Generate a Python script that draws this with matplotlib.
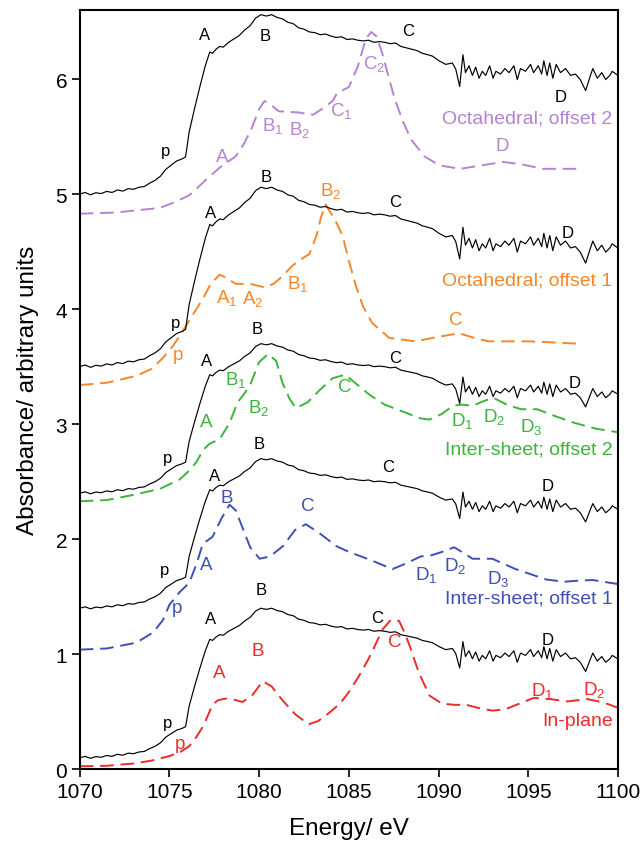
import numpy as np
import matplotlib
matplotlib.use("Agg")
import matplotlib.pyplot as plt

plt.rcParams['font.family'] = ['Liberation Sans', 'DejaVu Sans']
plt.rcParams['mathtext.default'] = 'regular'

# measured spectrum (baseline removed), shared by all five black traces
exp_energy = [1070.0, 1070.3, 1070.6, 1070.9, 1071.2, 1071.5, 1071.8, 1072.1, 1072.4, 1072.7,
              1073.0, 1073.3, 1073.6, 1073.9, 1074.2, 1074.5, 1074.8, 1075.1, 1075.4, 1075.7,
              1075.9, 1076.1, 1076.4, 1076.7, 1077.0, 1077.25, 1077.4, 1077.6, 1077.8, 1078.0,
              1078.3, 1078.6, 1078.9, 1079.2, 1079.5, 1079.8, 1080.1, 1080.4, 1080.7, 1081.0,
              1081.3, 1081.6, 1081.9, 1082.2, 1082.5, 1082.8, 1083.1, 1083.4, 1083.7, 1084.0,
              1084.3, 1084.6, 1084.9, 1085.2, 1085.5, 1085.8, 1086.1, 1086.4, 1086.7, 1087.0,
              1087.3, 1087.6, 1087.9, 1088.2, 1088.5, 1088.8, 1089.1, 1089.4, 1089.66, 1090.03,
              1090.4, 1090.77, 1090.96, 1091.18, 1091.36, 1091.5, 1091.7, 1091.89, 1092.07, 1092.26,
              1092.44, 1092.63, 1092.85, 1093.04, 1093.2, 1093.46, 1093.7, 1093.93, 1094.2, 1094.39,
              1094.57, 1094.85, 1095.13, 1095.3, 1095.56, 1095.75, 1095.87, 1096.05, 1096.2, 1096.37,
              1096.56, 1096.8, 1097.08, 1097.36, 1097.63, 1097.9, 1098.2, 1098.47, 1098.6, 1098.85,
              1099.1, 1099.32, 1099.55, 1099.68, 1100.0]
exp_mu = [0.000, 0.012, -0.005, 0.010, 0.004, 0.020, 0.012, 0.030, 0.022, 0.040,
          0.035, 0.050, 0.055, 0.080, 0.100, 0.130, 0.180, 0.210, 0.240, 0.255,
          0.270, 0.450, 0.620, 0.780, 0.930, 1.030, 1.020, 1.050, 1.070, 1.065,
          1.100, 1.125, 1.150, 1.190, 1.220, 1.275, 1.300, 1.290, 1.300, 1.280,
          1.270, 1.245, 1.235, 1.205, 1.195, 1.175, 1.170, 1.155, 1.160, 1.145,
          1.135, 1.140, 1.120, 1.125, 1.115, 1.110, 1.115, 1.100, 1.105, 1.100,
          1.090, 1.095, 1.070, 1.060, 1.050, 1.040, 1.020, 1.010, 1.000, 0.966,
          0.940, 0.950, 0.906, 0.780, 1.010, 0.880, 0.930, 0.860, 0.920, 0.840,
          0.890, 0.860, 0.930, 0.840, 0.890, 0.870, 0.910, 0.880, 0.930, 0.830,
          0.910, 0.890, 0.940, 0.880, 0.930, 0.870, 0.966, 0.860, 0.950, 0.840,
          0.940, 0.880, 0.910, 0.860, 0.870, 0.830, 0.750, 0.860, 0.910, 0.840,
          0.880, 0.830, 0.860, 0.890, 0.860]

# offset and scale for each black trace (bottom to top)
exp_offsets = [0.1, 1.4, 2.4, 3.5, 5.0]
exp_scales = [1.0, 1.0, 1.0, 1.2, 1.2]

# calculated spectra
inplane_e = [1070, 1071.5, 1073, 1074, 1075, 1075.6, 1076.1, 1076.5, 1076.9, 1077.4, 1077.7,
             1078.15, 1078.6, 1079.07, 1079.6, 1080.2, 1080.7, 1081.3, 1082.0, 1082.75, 1083.3,
             1083.9, 1084.5, 1085.0, 1085.6, 1086.1, 1086.5, 1086.9, 1087.35, 1087.8, 1088.1,
             1088.4, 1088.9, 1089.5, 1090.2, 1090.9, 1091.55, 1092.3, 1093.0, 1093.7, 1094.5,
             1095.3, 1096.2, 1097.2, 1098.3, 1099.2, 1100]
inplane_mu = [0.026, 0.03, 0.05, 0.075, 0.115, 0.15, 0.20, 0.28, 0.38, 0.56, 0.60,
              0.615, 0.605, 0.585, 0.64, 0.765, 0.72, 0.60, 0.48, 0.39, 0.42,
              0.49, 0.57, 0.67, 0.82, 0.96, 1.09, 1.22, 1.30, 1.29, 1.19,
              1.07, 0.84, 0.64, 0.57, 0.56, 0.56, 0.53, 0.51, 0.52, 0.57,
              0.62, 0.61, 0.59, 0.61, 0.58, 0.535]

inter1_e = [1070, 1071.5, 1073.15, 1074.1, 1074.65, 1075.0, 1075.57, 1076.1, 1076.5, 1076.86,
            1077.4, 1077.9, 1078.35, 1078.7, 1079.1, 1079.5, 1080.03, 1080.6, 1081.33, 1082.0,
            1082.6, 1083.3, 1084.3, 1085.0, 1086.2, 1087.43, 1088.2, 1089.0, 1089.6, 1090.2,
            1090.87, 1091.4, 1091.9, 1092.5, 1093.0, 1094.3, 1096.0, 1097.0, 1097.8, 1098.6, 1100]
inter1_mu = [0.04, 0.05, 0.10, 0.19, 0.30, 0.43, 0.54, 0.62, 0.78, 0.96,
             1.02, 1.18, 1.30, 1.25, 1.09, 0.93, 0.83, 0.85, 0.94, 1.08,
             1.13, 1.06, 0.94, 0.89, 0.82, 0.74, 0.79, 0.85, 0.86, 0.89,
             0.93, 0.88, 0.83, 0.83, 0.83, 0.74, 0.65, 0.63, 0.64, 0.645, 0.61]

inter2_e = [1070, 1071.5, 1073.15, 1074.5, 1075.57, 1076.0, 1076.5, 1076.9, 1077.24, 1077.8,
            1078.35, 1078.8, 1079.2, 1079.55, 1080.0, 1080.5, 1080.95, 1081.3, 1081.7, 1082.05,
            1082.7, 1083.4, 1084.1, 1084.8, 1085.5, 1086.2, 1087.0, 1088.0, 1089.0, 1089.5,
            1090.2, 1090.8, 1091.3, 1091.9, 1092.5, 1093.05, 1093.8, 1094.6, 1095.5, 1096.5,
            1097.6, 1098.8, 1100]
inter2_mu = [0.03, 0.04, 0.09, 0.14, 0.22, 0.28, 0.37, 0.48, 0.53, 0.57,
             0.71, 0.89, 0.97, 1.06, 1.24, 1.31, 1.25, 1.06, 0.92, 0.84,
             0.89, 1.00, 1.10, 1.13, 1.04, 0.95, 0.87, 0.81, 0.75, 0.74,
             0.79, 0.86, 0.87, 0.86, 0.90, 0.93, 0.87, 0.83, 0.83, 0.77,
             0.71, 0.66, 0.63]

octa1_e = [1070, 1071.5, 1073.15, 1074.0, 1074.6, 1075.2, 1075.75, 1076.3, 1076.86, 1077.3,
           1077.8, 1078.2, 1078.7, 1079.5, 1080.3, 1080.8, 1081.33, 1081.8, 1082.2, 1082.8,
           1083.2, 1083.45, 1083.7, 1083.9, 1084.25, 1084.65, 1085.0, 1085.4, 1085.8, 1086.3,
           1087.25, 1088.7, 1090.0, 1091.15, 1092.0, 1092.8, 1095.1, 1097.8, 1098.0]
octa1_mu = [0.04, 0.06, 0.12, 0.18, 0.27, 0.38, 0.51, 0.65, 0.79, 0.92,
            1.00, 0.97, 0.92, 0.92, 0.89, 0.92, 0.99, 1.07, 1.12, 1.18,
            1.34, 1.50, 1.61, 1.56, 1.47, 1.34, 1.12, 0.90, 0.72, 0.58,
            0.45, 0.42, 0.46, 0.49, 0.45, 0.42, 0.42, 0.40, 0.40]

octa2_e = [1070, 1072, 1074.46, 1075.3, 1076.1, 1076.6, 1077.07, 1077.8, 1078.7, 1079.2,
           1079.63, 1080.0, 1080.3, 1080.7, 1081.1, 1082.2, 1083.0, 1083.6, 1084.1, 1084.35,
           1085.0, 1085.5, 1085.95, 1086.25, 1086.55, 1086.85, 1087.2, 1087.55, 1088.0, 1088.45,
           1089.2, 1090.05, 1091.2, 1092.4, 1093.6, 1094.6, 1095.8, 1097.0, 1098.0]
octa2_mu = [0.03, 0.04, 0.08, 0.13, 0.19, 0.26, 0.33, 0.43, 0.53, 0.65,
            0.79, 0.94, 1.01, 0.97, 0.92, 0.91, 0.89, 0.95, 1.01, 1.08,
            1.13, 1.31, 1.55, 1.61, 1.57, 1.43, 1.23, 1.03, 0.84, 0.68,
            0.53, 0.45, 0.42, 0.45, 0.48, 0.46, 0.42, 0.42, 0.42]

calc_offsets = [0.0, 1.0, 2.3, 3.3, 4.8]
calc_colors = ['#ee2b2b', '#3d50b4', '#3cb43c', '#f7862a', '#b683d2']
calc_names = ['In-plane', 'Inter-sheet; offset 1', 'Inter-sheet; offset 2',
              'Octahedral; offset 1', 'Octahedral; offset 2']
calc_name_y = [0.42, 1.49, 2.78, 4.25, 5.66]

# peak labels: (energy, y, text)
exp_labels = [
    [(1074.9, 0.41, 'p'), (1077.3, 1.31, 'A'), (1080.1, 1.565, 'B'), (1086.6, 1.32, 'C'), (1096.1, 1.13, 'D')],
    [(1074.7, 1.74, 'p'), (1077.5, 2.55, 'A'), (1080.0, 2.83, 'B'), (1087.2, 2.63, 'C'), (1096.1, 2.47, 'D')],
    [(1074.9, 2.71, 'p'), (1077.05, 3.55, 'A'), (1079.87, 3.83, 'B'), (1087.56, 3.58, 'C'), (1097.6, 3.36, 'D')],
    [(1075.35, 3.88, 'p'), (1077.3, 4.84, 'A'), (1080.4, 5.15, 'B'), (1087.56, 4.94, 'C'), (1097.2, 4.67, 'D')],
    [(1074.8, 5.38, 'p'), (1076.95, 6.39, 'A'), (1080.35, 6.38, 'B'), (1088.3, 6.42, 'C'), (1096.8, 5.85, 'D')],
]
calc_labels = [
    [(1075.57, 0.22, 'p'), (1077.8, 0.84, 'A'), (1079.93, 1.03, 'B'), (1087.56, 1.11, 'C'),
     (1095.8, 0.69, '$D_1$'), (1098.7, 0.70, '$D_2$')],
    [(1075.4, 1.41, 'p'), (1077.05, 1.78, 'A'), (1078.2, 2.36, 'B'), (1082.7, 2.29, 'C'),
     (1089.3, 1.70, '$D_1$'), (1090.9, 1.78, '$D_2$'), (1093.3, 1.66, '$D_3$')],
    [(1077.05, 3.02, 'A'), (1078.7, 3.39, '$B_1$'), (1080.0, 3.15, '$B_2$'), (1084.8, 3.33, 'C'),
     (1091.35, 3.04, '$D_1$'), (1093.1, 3.07, '$D_2$'), (1095.15, 2.98, '$D_3$')],
    [(1075.5, 3.61, 'p'), (1078.2, 4.11, '$A_1$'), (1079.66, 4.10, '$A_2$'), (1082.16, 4.23, '$B_1$'),
     (1084.0, 5.04, '$B_2$'), (1090.96, 3.91, 'C')],
    [(1077.97, 5.33, 'A'), (1080.75, 5.60, '$B_1$'), (1082.25, 5.57, '$B_2$'), (1084.55, 5.73, '$C_1$'),
     (1086.4, 6.14, '$C_2$'), (1093.57, 5.42, 'D')],
]
calc_curves = [(inplane_e, inplane_mu), (inter1_e, inter1_mu), (inter2_e, inter2_mu),
               (octa1_e, octa1_mu), (octa2_e, octa2_mu)]

fig = plt.figure(figsize=(6.43, 8.53), dpi=100)
ax = fig.add_axes([0.124, 0.097, 0.837, 0.890])

exp_e = np.array(exp_energy)
exp_y = np.array(exp_mu)
for off, sc in zip(exp_offsets, exp_scales):
    ax.plot(exp_e, off + sc * exp_y, color='black', lw=0.85, zorder=3)

for (e, mu), off, col in zip(calc_curves, calc_offsets, calc_colors):
    ax.plot(e, off + np.array(mu), color=col, lw=1.4, dashes=(7, 3.5), zorder=2)

for labs in exp_labels:
    for x, y, s in labs:
        ax.text(x, y, s, color='black', fontsize=12, ha='center', va='center', zorder=4)

for labs, col in zip(calc_labels, calc_colors):
    for x, y, s in labs:
        ax.text(x, y, s, color=col, fontsize=13.5, ha='center', va='center', zorder=4)

for name, y, col in zip(calc_names, calc_name_y, calc_colors):
    ax.text(1099.7, y, name, color=col, fontsize=14, ha='right', va='center', zorder=4)

ax.set_xlim(1070, 1100)
ax.set_ylim(0, 6.6)
ax.set_xticks(np.arange(1070, 1101, 5))
ax.set_yticks(np.arange(0, 7, 1))
ax.tick_params(direction='out', length=5.5, width=1.2, labelsize=15, top=False, right=False)
for sp in ax.spines.values():
    sp.set_linewidth(1.5)
ax.set_xlabel('Energy/ eV', fontsize=17.5, labelpad=12)
ax.set_ylabel('Absorbance/ arbitrary units', fontsize=17.5, labelpad=12)

fig.savefig('out.png', dpi=100)
